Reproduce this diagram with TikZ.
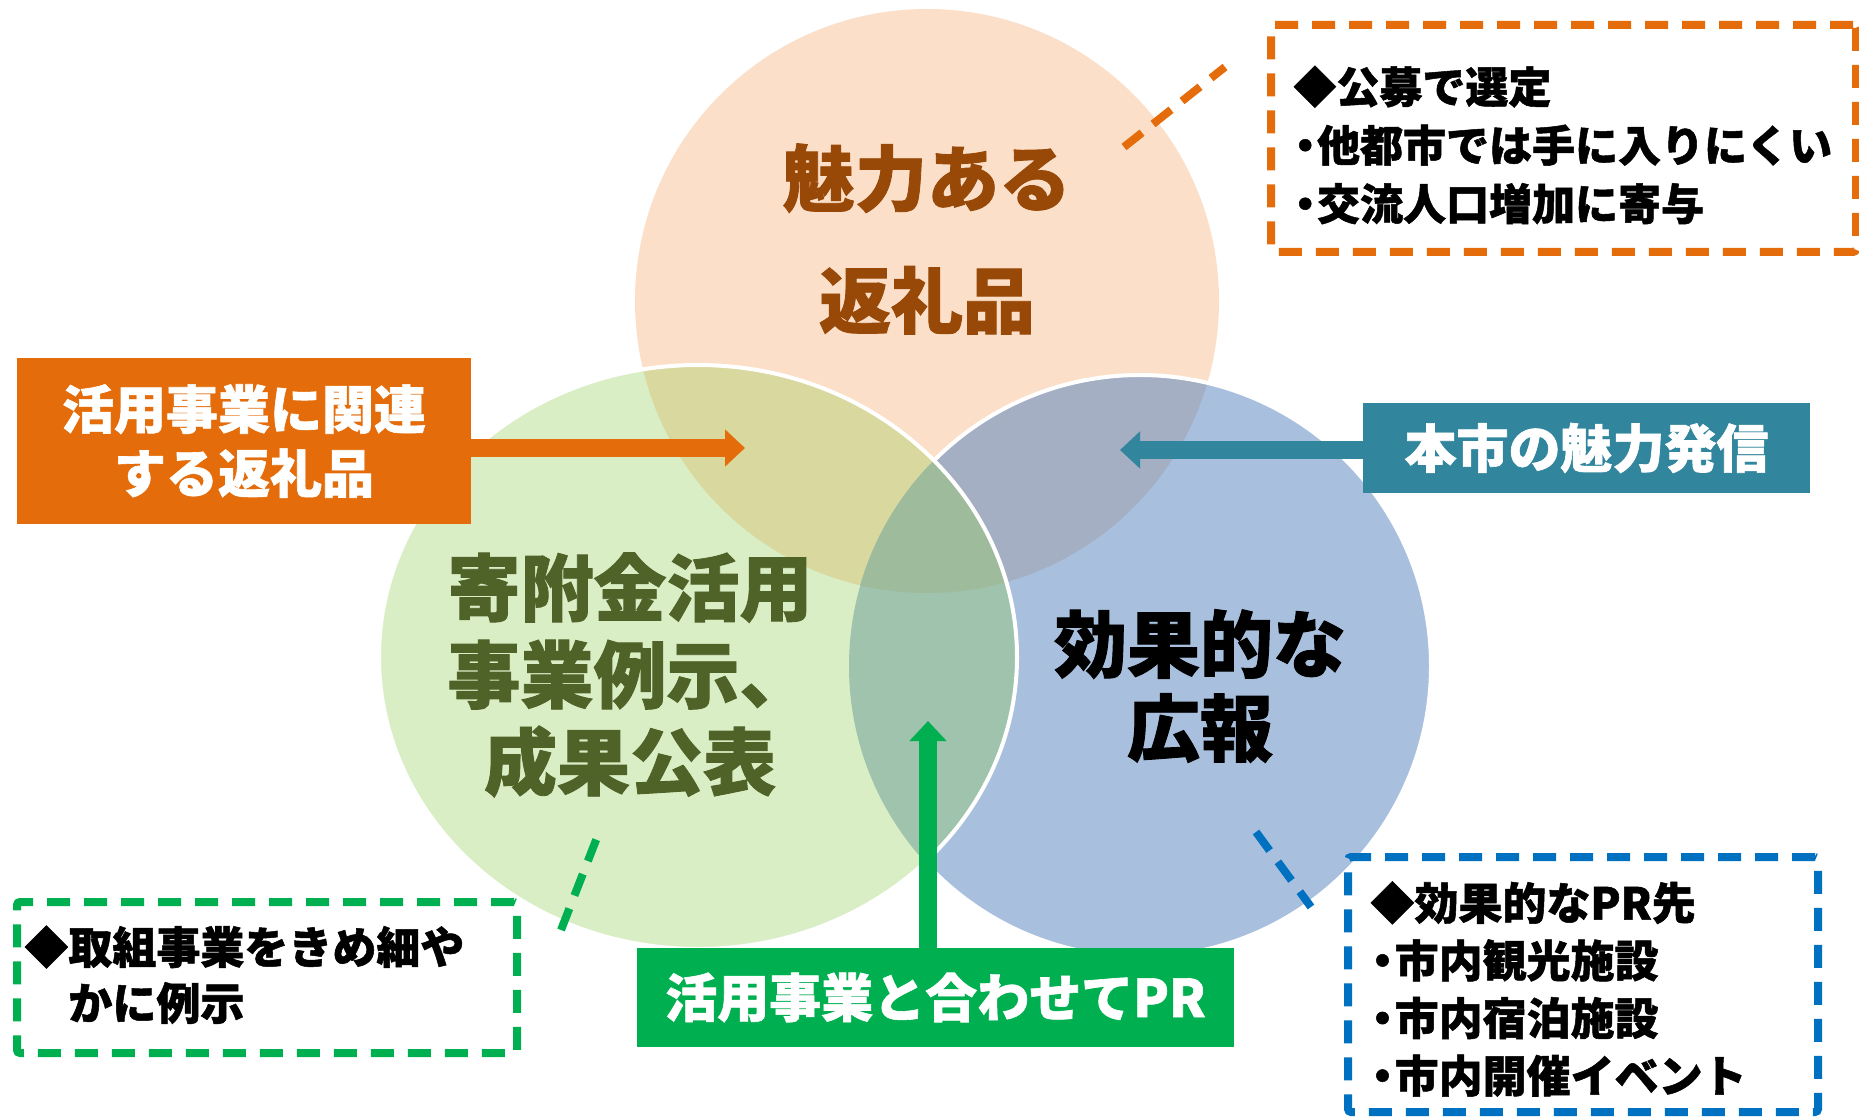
\documentclass[tikz,border=0pt]{standalone}
\usepackage{fontspec}
\newfontfamily\jp{Noto Sans CJK JP}[BoldFeatures={FakeBold=1.2}]
\newcommand\jpw{\bfseries}
\usetikzlibrary{arrows.meta}
\definecolor{cO}{HTML}{FBDFC8}
\definecolor{cG}{HTML}{DAEEC6}
\definecolor{cB}{HTML}{A8C0DE}
\definecolor{cOG}{HTML}{D8D89F}
\definecolor{cOB}{HTML}{A4AFC4}
\definecolor{cGB}{HTML}{9FC3AD}
\definecolor{cOGB}{HTML}{9EBB9C}
\definecolor{boxorange}{HTML}{E46C0A}
\definecolor{boxteal}{HTML}{31859C}
\definecolor{boxgreen}{HTML}{00B050}
\definecolor{dblue}{HTML}{0070C0}
\definecolor{txtbrown}{HTML}{984807}
\definecolor{txtolive}{HTML}{4F6228}
\newcommand\OrangeCirc{(927,301) circle [radius=292]}
\newcommand\GreenEll{(698,657) ellipse [x radius=319, y radius=292]}
\newcommand\BlueCirc{(1140,666) circle [radius=291]}
\newcommand\bul{\makebox[0.55em][c]{・}}
\begin{document}
\begin{tikzpicture}[x=0.5pt,y=-0.5pt,
  solidbox/.style={draw=none, inner sep=0pt, text=white, align=center, font=\jp\jpw\fontsize{26}{32}\selectfont},
  dashbox/.style={line width=4pt, dash pattern=on 11.5pt off 7pt, rounded corners=1.5pt, inner sep=0pt},
  dashline/.style={line width=4pt, dash pattern=on 11.5pt off 7pt},
  notetext/.style={inner sep=0pt, align=left, anchor=west},
  circletext/.style={inner sep=0pt, align=center},
  bigarrow/.style={line width=9pt, -{Triangle[length=10pt,width=18pt]}},
]
\useasboundingbox (0,0) rectangle (1859,1117);
\fill[white] (0,0) rectangle (1859,1117);
% circles
\fill[cO] \OrangeCirc;
\fill[cB] \BlueCirc;
\fill[cG] \GreenEll;
\begin{scope}\clip \OrangeCirc; \fill[cOG] \GreenEll; \fill[cOB] \BlueCirc; \end{scope}
\begin{scope}\clip \GreenEll; \fill[cGB] \BlueCirc; \end{scope}
\begin{scope}\clip \OrangeCirc; \clip \GreenEll; \fill[cOGB] \BlueCirc; \end{scope}
\begin{scope}[even odd rule]
  \clip (0,0) rectangle (1859,1117) \GreenEll;
  \draw[white, line width=2pt] \BlueCirc;
\end{scope}
\draw[white, line width=2pt] \GreenEll;
% circle labels
\node[circletext, text=txtbrown, font=\jp\jpw\fontsize{36}{61}\selectfont] (lblO) at (927,239) {魅力ある\\返礼品};
\node[circletext, text=txtolive, font=\jp\jpw\fontsize{36.5}{43.5}\selectfont] (lblG) at (630,675) {寄附金活用\\事業例示、\\成果公表};
\node[circletext, text=black, font=\jp\jpw\fontsize{36.5}{42}\selectfont] (lblB) at (1200,686) {効果的な\\広報};
% solid boxes
\node[solidbox, fill=boxorange, minimum width=227pt, minimum height=83pt] (relbox) at (244,441) {活用事業に関連\\する返礼品};
\node[solidbox, fill=boxteal, minimum width=223.5pt, minimum height=45pt] (promobox) at (1586.5,448) {本市の魅力発信};
\node[solidbox, fill=boxgreen, minimum width=298.5pt, minimum height=49.5pt] (prbox) at (935.5,997.5) {活用事業と合わせてPR};
% arrows
\coordinate (oaTip) at (745,448);
\draw[bigarrow, boxorange] (relbox.east |- oaTip) -- (oaTip);
\coordinate (taTip) at (1120,450);
\draw[bigarrow, boxteal] (promobox.west |- taTip) -- (taTip);
\coordinate (gaTip) at (928,721);
\draw[bigarrow, boxgreen] (prbox.north -| gaTip) -- (gaTip);
% dashed note boxes
\node[dashbox, draw=boxorange, minimum width=292.5pt, minimum height=113.5pt] (noteO) at (1563.5,138.5) {};
\node[notetext, font=\jp\jpw\fontsize{21.5}{29.25}\selectfont] (noteOtext) at (1293,145) {◆公募で選定\\\bul 他都市では手に入りにくい\\\bul 交流人口増加に寄与};
\node[dashbox, draw=boxgreen, minimum width=250pt, minimum height=75.5pt] (noteG) at (267,977.5) {};
\node[notetext, font=\jp\jpw\fontsize{22}{28}\selectfont] (noteGtext) at (24,975) {◆取組事業をきめ細や\\\phantom{◆}かに例示};
\node[dashbox, draw=dblue, minimum width=235pt, minimum height=127.5pt] (noteB) at (1583,984.5) {};
\node[notetext, font=\jp\jpw\fontsize{22}{28.8}\selectfont] (noteBtext) at (1370,989) {◆効果的なPR先\\\bul 市内観光施設\\\bul 市内宿泊施設\\\bul 市内開催イベント};
% dashed connectors
\coordinate (oc1) at (1124,147); \coordinate (oc2) at (1225,67);
\draw[dashline, boxorange] (oc1) -- (oc2);
\coordinate (gc1) at (561,930); \coordinate (gc2) at (598,835);
\draw[dashline, boxgreen] (gc1) -- (gc2);
\coordinate (bc1) at (1256,832); \coordinate (bc2) at (1311,907);
\draw[dashline, dblue] (bc1) -- (bc2);
\end{tikzpicture}
\end{document}
